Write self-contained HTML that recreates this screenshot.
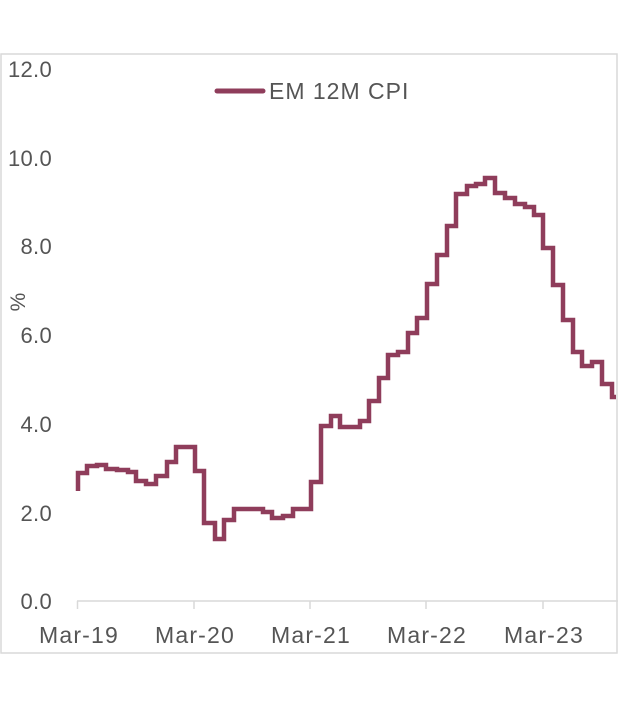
<!DOCTYPE html>
<html><head><meta charset="utf-8"><style>
html,body{margin:0;padding:0;background:#fff;}
svg{display:block;font-family:"Liberation Sans",sans-serif;}
</style></head><body>
<svg width="618" height="709" viewBox="0 0 618 709">
<rect x="1" y="54" width="616" height="599" fill="#fff" stroke="#d9d9d9" stroke-width="1.5"/>
<g fill="#555" font-size="22" text-anchor="end" letter-spacing="0.3">
<text x="52" y="77">12.0</text>
<text x="52" y="166">10.0</text>
<text x="52" y="254">8.0</text>
<text x="52" y="343">6.0</text>
<text x="52" y="432">4.0</text>
<text x="52" y="521">2.0</text>
<text x="52" y="609">0.0</text>
</g>
<text x="25" y="302" fill="#555" font-size="21" text-anchor="middle" transform="rotate(-90 25 302)">%</text>
<line x1="77" y1="601" x2="618" y2="601" stroke="#d9d9d9" stroke-width="1.5"/>
<g stroke="#d9d9d9" stroke-width="1.5">
<line x1="77.5" y1="601" x2="77.5" y2="609"/>
<line x1="194" y1="601" x2="194" y2="609"/>
<line x1="310" y1="601" x2="310" y2="609"/>
<line x1="426" y1="601" x2="426" y2="609"/>
<line x1="543" y1="601" x2="543" y2="609"/>
</g>
<g fill="#555" font-size="23" text-anchor="middle" letter-spacing="1.2">
<text x="79" y="643">Mar-19</text>
<text x="195" y="643">Mar-20</text>
<text x="311" y="643">Mar-21</text>
<text x="427" y="643">Mar-22</text>
<text x="544" y="643">Mar-23</text>
</g>
<line x1="217" y1="91" x2="263" y2="91" stroke="#8f3d5b" stroke-width="5" stroke-linecap="round"/>
<text x="269" y="99" fill="#555" font-size="23" letter-spacing="1">EM 12M CPI</text>
<polyline fill="none" stroke="#8f3d5b" stroke-width="4.5" stroke-linejoin="miter"
points="78,491 78,473 87,473 87,466 97,466 97,465 106,465 106,469 117,469 117,470 128,470 128,472 136,472 136,481 146,481 146,484 156,484 156,476 167,476 167,462 176,462 176,447 195,447 195,471 204,471 204,523 215,523 215,539 224,539 224,520 234,520 234,509 263,509 263,512 272,512 272,518 283,518 283,516 293,516 293,509 311,509 311,482 321,482 321,426 331,426 331,416 340,416 340,427 360,427 360,421 369,421 369,401 379,401 379,378 388,378 388,355 398,355 398,352 408,352 408,333 417,333 417,318 427,318 427,284 437,284 437,255 447,255 447,226 456,226 456,194 467,194 467,186 476,186 476,184 485,184 485,178 495,178 495,193 505,193 505,198 515,198 515,204 525,204 525,207 534,207 534,215 543,215 543,248 553,248 553,285 563,285 563,320 573,320 573,352 582,352 582,366 592,366 592,362 602,362 602,384 612,384 612,397 616,397"/>
</svg>
</body></html>
